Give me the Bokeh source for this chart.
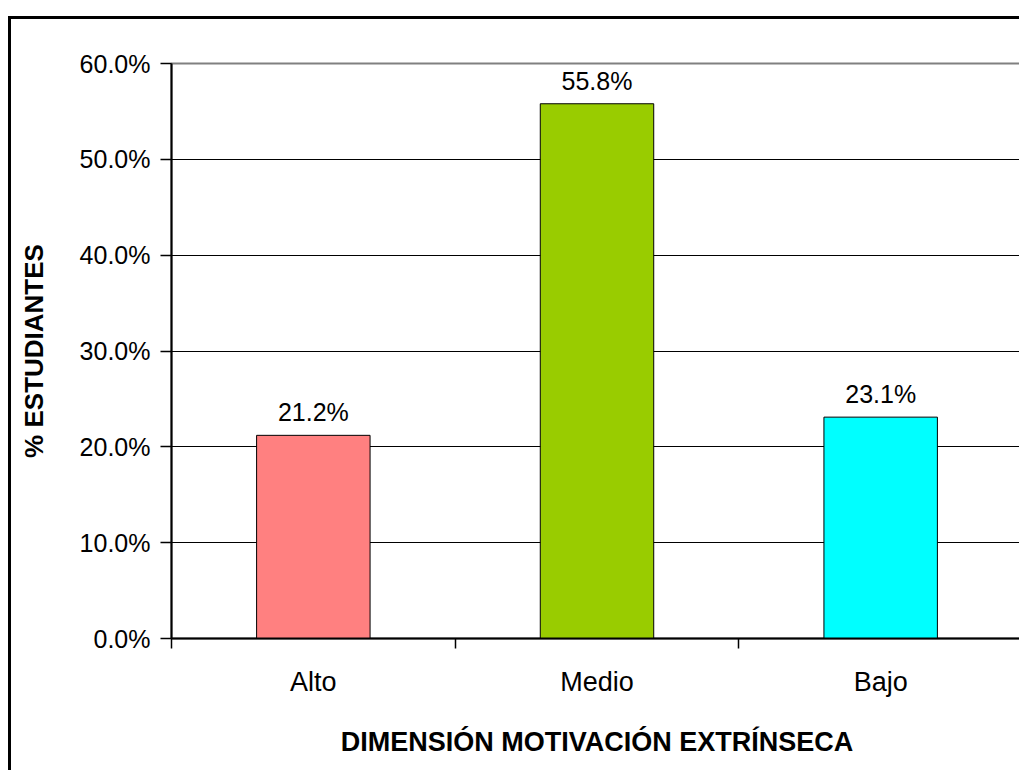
from bokeh.plotting import figure
from bokeh.models import ColumnDataSource, FixedTicker, NumeralTickFormatter, Range1d
from bokeh.embed import file_html
from bokeh.resources import INLINE
from bokeh.core.properties import value

categories = ["Alto", "Medio", "Bajo"]
percentages = [0.212, 0.558, 0.231]
colors = ["#FF8080", "#99CC00", "#00FFFF"]
y_ticks = [0.0, 0.1, 0.2, 0.3, 0.4, 0.5, 0.6]
x_title = "DIMENSIÓN MOTIVACIÓN EXTRÍNSECA"
y_title = "% ESTUDIANTES"

FONT = "Liberation Sans"

pos = [i + 0.5 for i in range(len(categories))]
bounds = [float(i) for i in range(len(categories) + 1)]
labels = [f"{v * 100:.1f}%" for v in percentages]

src = ColumnDataSource(dict(x=pos, top=percentages, color=colors, label=labels))

p = figure(
    width=1011, height=754,
    x_range=Range1d(0, len(categories)), y_range=Range1d(0, 0.6),
    output_backend="svg", toolbar_location=None,
    min_border_left=160, min_border_right=0, min_border_top=44, min_border_bottom=135,
)
p.margin = (16, 0, 0, 8)
p.styles = {"border-left": "3px solid black", "border-top": "3px solid black"}

p.background_fill_color = "white"
p.border_fill_color = "white"
p.outline_line_color = "#808080"
p.outline_line_width = 2

p.vbar(x="x", top="top", width=0.4, fill_color="color", line_color="black",
       line_width=1, source=src)
p.text(x="x", y="top", text="label", text_align="center", text_baseline="alphabetic",
       y_offset=-23, text_font=value(FONT), text_font_size="25px", text_color="black",
       source=src)

# y axis
ya = p.yaxis[0]
ya.ticker = FixedTicker(ticks=y_ticks)
ya.formatter = NumeralTickFormatter(format="0.0%")
ya.major_tick_out = 11
ya.major_tick_in = 0
ya.minor_tick_line_color = None
ya.axis_line_color = "black"
ya.axis_line_width = 2
ya.major_tick_line_color = "black"
ya.major_tick_line_width = 1.5
ya.major_label_text_font = FONT
ya.major_label_text_font_size = "25px"
ya.major_label_text_color = "black"
ya.major_label_standoff = 10
ya.axis_label = y_title
ya.axis_label_text_font = FONT
ya.axis_label_text_font_style = "bold"
ya.axis_label_text_font_size = "26px"
ya.axis_label_text_color = "black"
ya.axis_label_standoff = 28

# x axis
xa = p.xaxis[0]
xa.ticker = FixedTicker(ticks=pos, minor_ticks=bounds)
xa.major_label_overrides = {pv: c for pv, c in zip(pos, categories)}
xa.major_tick_line_color = None
xa.major_tick_out = 10
xa.major_tick_in = 0
xa.minor_tick_line_color = "black"
xa.minor_tick_line_width = 1.5
xa.minor_tick_out = 10
xa.minor_tick_in = 0
xa.axis_line_color = "black"
xa.axis_line_width = 2
xa.major_label_text_font = FONT
xa.major_label_text_font_size = "27px"
xa.major_label_text_color = "black"
xa.major_label_standoff = 18
xa.axis_label = x_title
xa.axis_label_text_font = FONT
xa.axis_label_text_font_style = "bold"
xa.axis_label_text_font_size = "27px"
xa.axis_label_text_color = "black"
xa.axis_label_standoff = 27

p.xgrid.grid_line_color = None
p.ygrid.ticker = FixedTicker(ticks=y_ticks)
p.ygrid.grid_line_color = "black"
p.ygrid.grid_line_width = 1

open("out.html", "w").write(file_html(p, INLINE))
